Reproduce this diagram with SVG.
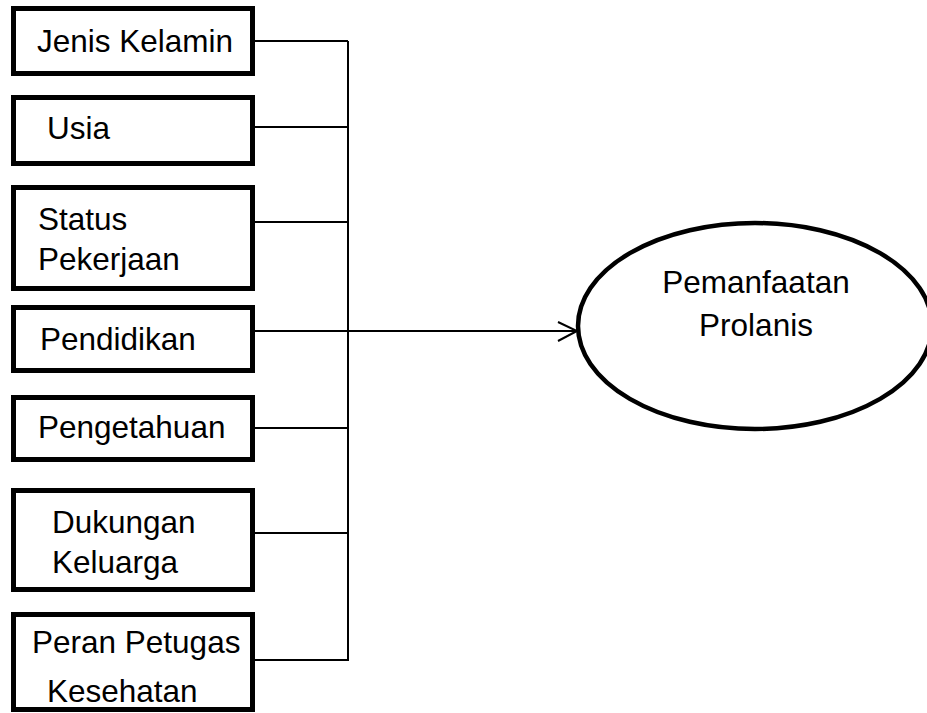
<svg xmlns="http://www.w3.org/2000/svg" width="927" height="713" viewBox="0 0 927 713">
<style>
.box{fill:#fff;stroke:#000;stroke-width:5}
.t{font-family:"Liberation Sans",Arial,sans-serif;font-size:31.5px;fill:#000}
.c{fill:none;stroke:#000;stroke-width:2}
</style>
<rect width="927" height="713" fill="#fff"/>
<g id="connectors">
<path class="c" d="M255 41H348M255 127H348M255 222H348M255 331H348M255 428H348M255 533H348M255 660H348M348 41V661"/>
<path class="c" d="M348 331H576"/>
<path class="c" d="M558 322L577 331L558 341"/>
</g>
<g id="jenis-kelamin"><rect class="box" x="13.5" y="8.5" width="239" height="65"/><text class="t" x="37" y="52">Jenis Kelamin</text></g>
<g id="usia"><rect class="box" x="13.5" y="97.5" width="239" height="66"/><text class="t" x="47" y="139">Usia</text></g>
<g id="status-pekerjaan"><rect class="box" x="13.5" y="187.5" width="239" height="101"/><text class="t" x="38" y="230">Status</text><text class="t" x="38" y="270">Pekerjaan</text></g>
<g id="pendidikan"><rect class="box" x="13.5" y="307.5" width="239" height="63"/><text class="t" x="40" y="350">Pendidikan</text></g>
<g id="pengetahuan"><rect class="box" x="13.5" y="397.5" width="239" height="62"/><text class="t" x="38" y="438">Pengetahuan</text></g>
<g id="dukungan-keluarga"><rect class="box" x="13.5" y="490.5" width="239" height="99"/><text class="t" x="52" y="533">Dukungan</text><text class="t" x="52" y="573">Keluarga</text></g>
<g id="peran-petugas"><rect class="box" x="13.5" y="614.5" width="239" height="95"/><text class="t" x="32" y="653">Peran Petugas</text><text class="t" x="47" y="702">Kesehatan</text></g>
<g id="pemanfaatan-prolanis"><ellipse cx="755" cy="326" rx="177" ry="103" fill="#fff" stroke="#000" stroke-width="4.5"/><text class="t" x="756" y="293" text-anchor="middle">Pemanfaatan</text><text class="t" x="756" y="336" text-anchor="middle">Prolanis</text></g>
</svg>
